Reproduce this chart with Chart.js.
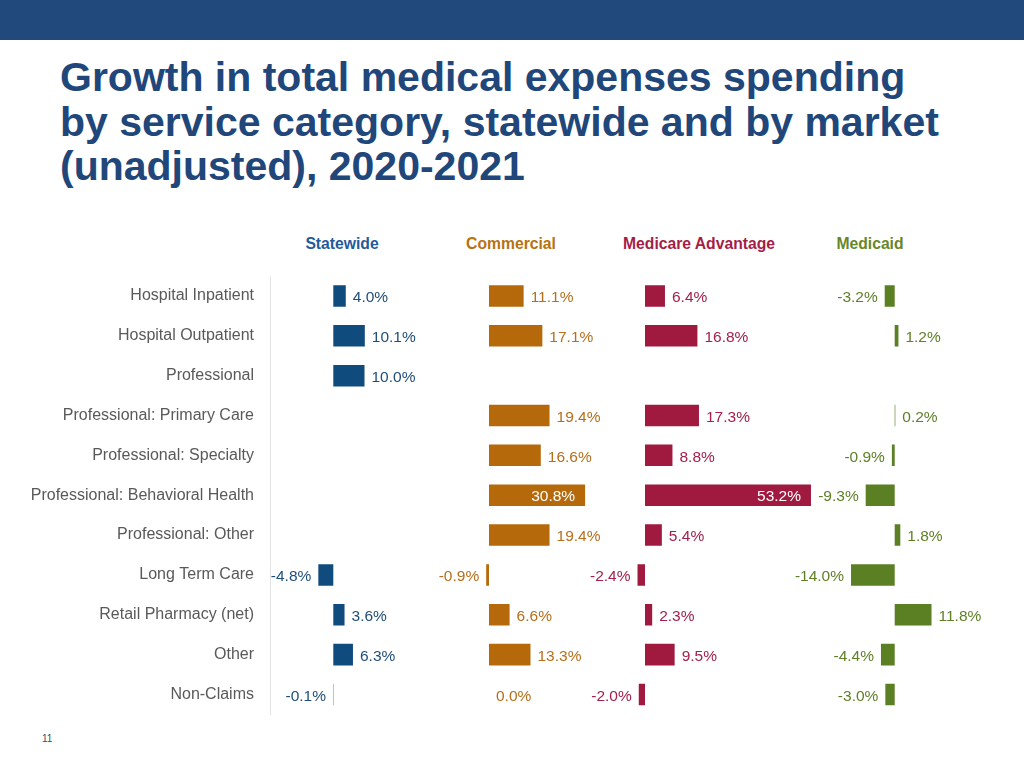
<!DOCTYPE html>
<html>
<head>
<meta charset="utf-8">
<script src="https://cdn.jsdelivr.net/npm/chart.js@4.4.1/dist/chart.umd.min.js"></script>
<style>
html,body{margin:0;padding:0;width:1024px;height:768px;background:#fff;overflow:hidden;font-family:"Liberation Sans",Arial,sans-serif;}
#band{position:absolute;left:0;top:0;width:1024px;height:40px;background:#21497b;}
#title{position:absolute;left:60px;top:55px;font-weight:bold;font-size:41px;line-height:44.5px;color:#21477a;white-space:nowrap;}
.ph{position:absolute;top:235px;font-weight:bold;font-size:15.7px;line-height:18px;transform:translateX(-50%);white-space:nowrap;}
#pg{position:absolute;left:42px;top:733px;font-size:10px;color:#3d4f66;}
#wrap{position:absolute;left:0;top:200px;width:1024px;height:540px;}
</style>
</head>
<body>
<div id="band"></div>
<div id="title">Growth in total medical expenses spending<br>by service category, statewide and by market<br>(unadjusted), 2020-2021</div>
<div class="ph" style="left:342px;color:#1f5c99;">Statewide</div>
<div class="ph" style="left:511px;color:#b8720f;">Commercial</div>
<div class="ph" style="left:699px;color:#a51d47;">Medicare Advantage</div>
<div class="ph" style="left:870px;color:#66882b;">Medicaid</div>
<div id="pg">11</div>
<div id="wrap"><canvas id="c"></canvas></div>
<script>
// ---- Data ----
const categories = [
  "Hospital Inpatient",
  "Hospital Outpatient",
  "Professional",
  "Professional: Primary Care",
  "Professional: Specialty",
  "Professional: Behavioral Health",
  "Professional: Other",
  "Long Term Care",
  "Retail Pharmacy (net)",
  "Other",
  "Non-Claims"
];
const panelNames = ["Statewide", "Commercial", "Medicare Advantage", "Medicaid"];
const statewide         = [4.0, 10.1, 10.0, null, null, null, null, -4.8, 3.6, 6.3, -0.1];
const commercial        = [11.1, 17.1, null, 19.4, 16.6, 30.8, 19.4, -0.9, 6.6, 13.3, 0.0];
const medicareAdvantage = [6.4, 16.8, null, 17.3, 8.8, 53.2, 5.4, -2.4, 2.3, 9.5, -2.0];
const medicaid          = [-3.2, 1.2, null, 0.2, -0.9, -9.3, 1.8, -14.0, 11.8, -4.4, -3.0];

// ---- Styling / layout ----
const series = [statewide, commercial, medicareAdvantage, medicaid];
const barColors = ["#104b7d", "#b5690a", "#a01a3f", "#5b7f23"];
const labelColors = ["#1f4e79", "#b86e1a", "#a3214a", "#5e7f26"];
const FONT = '"Liberation Sans", Arial, sans-serif';
const AREA_LEFT = 270, AREA_RIGHT = 1010, PX_PER_UNIT = 3.12;
const zeroPx = [333.3, 489, 645, 894.7];
const span = (AREA_RIGHT - AREA_LEFT) / PX_PER_UNIT;

const scales = {
  y: {
    type: 'category',
    position: 'left',
    afterFit(s) { s.width = AREA_LEFT; },
    grid: { display: true, drawOnChartArea: false, drawTicks: false },
    border: { display: true, color: '#e3e3e3', width: 1 },
    ticks: { padding: 16, color: '#595959', font: { family: FONT, size: 16 } }
  }
};
series.forEach((d, k) => {
  const min = -(zeroPx[k] - AREA_LEFT) / PX_PER_UNIT;
  scales['x' + k] = { type: 'linear', display: false, min: min, max: min + span };
});

const valueLabels = {
  id: 'valueLabels',
  afterDatasetsDraw(chart) {
    const ctx = chart.ctx;
    ctx.save();
    ctx.font = '15.5px ' + FONT;
    ctx.textBaseline = 'middle';
    chart.data.datasets.forEach((ds, di) => {
      const meta = chart.getDatasetMeta(di);
      meta.data.forEach((bar, i) => {
        const v = ds.data[i];
        if (v === null || v === undefined) return;
        const txt = v.toFixed(1) + '%';
        const len = Math.abs(bar.x - bar.base);
        const w = ctx.measureText(txt).width;
        let x, align, color = labelColors[di];
        if (v >= 0 && len > w + 24) { x = bar.x - 10; align = 'right'; color = '#ffffff'; }
        else if (v >= 0) { x = bar.x + 7; align = 'left'; }
        else { x = bar.x - 7; align = 'right'; }
        ctx.fillStyle = color;
        ctx.textAlign = align;
        ctx.fillText(txt, x, bar.y + 2);
      });
    });
    ctx.restore();
  }
};

new Chart(document.getElementById('c'), {
  type: 'bar',
  data: {
    labels: categories,
    datasets: series.map((d, k) => ({
      label: panelNames[k],
      data: d,
      xAxisID: 'x' + k,
      backgroundColor: barColors[k],
      grouped: false,
      barPercentage: 0.54,
      categoryPercentage: 1
    }))
  },
  options: {
    indexAxis: 'y',
    responsive: true,
    maintainAspectRatio: false,
    animation: false,
    layout: { padding: { top: 76, bottom: 23, left: 0, right: 1024 - AREA_RIGHT } },
    plugins: { legend: { display: false }, tooltip: { enabled: false } },
    scales: scales
  },
  plugins: [valueLabels]
});
</script>
</body>
</html>
